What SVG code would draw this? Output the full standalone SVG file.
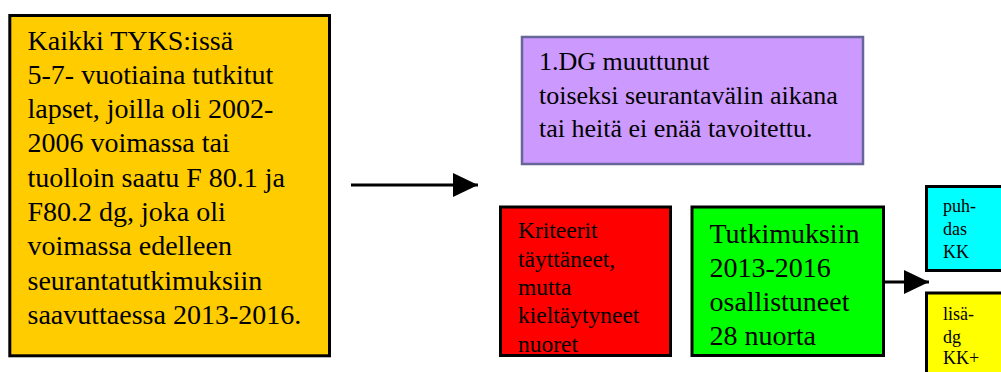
<svg xmlns="http://www.w3.org/2000/svg" width="1001" height="372" viewBox="0 0 1001 372">
<style>
.t{font-family:"Liberation Serif","Times New Roman",serif;fill:#000}
.box{stroke:#000;stroke-width:3}
.conn{stroke:#000;stroke-width:3;fill:none}
</style>
<defs>
<marker id="ah" markerUnits="userSpaceOnUse" markerWidth="25" markerHeight="24" refX="25" refY="12" orient="auto" viewBox="0 0 25 24">
<path d="M0,0 L25,12 L0,24 Z" fill="#000"/>
</marker>
</defs>
<rect width="1001" height="372" fill="#fff"/>
<g id="orange">
<rect class="box" x="9.8" y="15.5" width="319.7" height="340.3" fill="#FFCC00"/>
<text class="t" font-size="28">
<tspan x="27.5" y="49.5">Kaikki TYKS:issä</tspan>
<tspan x="27.5" y="83.8">5-7- vuotiaina tutkitut</tspan>
<tspan x="27.5" y="118.1">lapset, joilla oli 2002-</tspan>
<tspan x="27.5" y="152.4">2006 voimassa tai</tspan>
<tspan x="27.5" y="186.7">tuolloin saatu F 80.1 ja</tspan>
<tspan x="27.5" y="221">F80.2 dg, joka oli</tspan>
<tspan x="27.5" y="255.3">voimassa edelleen</tspan>
<tspan x="27.5" y="289.6">seurantatutkimuksiin</tspan>
<tspan x="27.5" y="323.9">saavuttaessa 2013-2016.</tspan>
</text>
</g>
<g id="purple">
<rect x="522" y="37" width="341" height="127" fill="#CC99FF" stroke="#666699" stroke-width="2.5"/>
<text class="t" font-size="26">
<tspan x="539" y="70">1.DG muuttunut</tspan>
<tspan x="539" y="103.5">toiseksi seurantavälin aikana</tspan>
<tspan x="539" y="137">tai heitä ei enää tavoitettu.</tspan>
</text>
</g>
<g id="red">
<rect class="box" x="500.5" y="207" width="170" height="148.5" fill="#FF0000"/>
<text class="t" font-size="23.5">
<tspan x="518" y="237.5">Kriteerit</tspan>
<tspan x="518" y="266.5">täyttäneet,</tspan>
<tspan x="518" y="295">mutta</tspan>
<tspan x="518" y="323">kieltäytyneet</tspan>
<tspan x="518" y="351.5">nuoret</tspan>
</text>
</g>
<g id="green">
<rect class="box" x="692" y="207" width="191.5" height="148.5" fill="#00FF00"/>
<text class="t" font-size="28">
<tspan x="709.5" y="243">Tutkimuksiin</tspan>
<tspan x="709.5" y="276.5">2013-2016</tspan>
<tspan x="709.5" y="310.5">osallistuneet</tspan>
<tspan x="709.5" y="344.5">28 nuorta</tspan>
</text>
</g>
<g id="cyan">
<rect class="box" x="926.5" y="186.5" width="80" height="84" fill="#00FFFF"/>
<text class="t" font-size="18">
<tspan x="943" y="212">puh-</tspan>
<tspan x="943" y="235">das</tspan>
<tspan x="943" y="258">KK</tspan>
</text>
</g>
<g id="yellow">
<rect class="box" x="926.5" y="293" width="80" height="90" fill="#FFFF00"/>
<text class="t" font-size="18">
<tspan x="943" y="320">lisä-</tspan>
<tspan x="943" y="342.5">dg</tspan>
<tspan x="943" y="364">KK+</tspan>
</text>
</g>
<g id="connectors">
<line class="conn" x1="351" y1="185" x2="478" y2="185" marker-end="url(#ah)"/>
<line class="conn" x1="885" y1="282" x2="929" y2="282" marker-end="url(#ah)"/>
</g>
</svg>
